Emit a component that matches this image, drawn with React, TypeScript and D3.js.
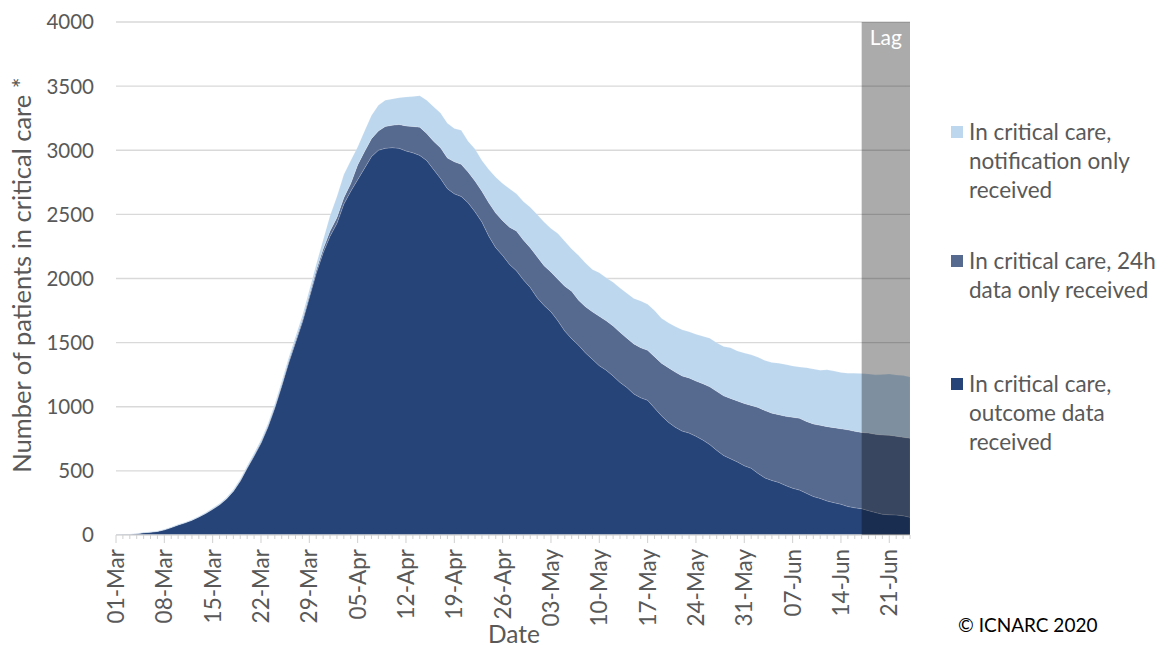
import React from "react";
import * as d3 from "d3";

// ---------- DATA ----------
const startDate = "2020-03-01";
const outcomeReceived = [
  3, 5, 6, 10, 18, 22, 28, 40, 58, 78,
  95, 115, 140, 168, 200, 235, 280, 340, 420, 520,
  615, 715, 840, 990, 1160, 1340, 1500, 1660, 1850, 2040,
  2200, 2330, 2430, 2580, 2680, 2770, 2860, 2950, 3000, 3015,
  3020, 3015, 2995, 2980, 2960, 2920, 2850, 2780, 2700, 2660,
  2640, 2590, 2520, 2440, 2330, 2240, 2180, 2110, 2060, 1990,
  1930, 1850, 1790, 1740, 1670, 1590, 1530, 1480, 1420, 1370,
  1320, 1285, 1240, 1190, 1150, 1100, 1070, 1050, 990, 930,
  880, 840, 810, 795, 770, 740, 705, 660, 620, 595,
  570, 540, 520, 480, 445, 425, 410, 385, 365, 350,
  325, 300, 285, 265, 252, 240, 222, 212, 205, 190,
  175, 162, 158, 156, 150, 138,
];
const dataOnly24h = [
  0, 0, 0, 0, 0, 0, 0, 0, 0, 0,
  0, 0, 1, 1, 2, 2, 3, 4, 5, 6,
  7, 8, 9, 10, 12, 14, 16, 18, 20, 24,
  30, 40, 45, 50, 60, 115, 130, 140, 150, 170,
  175, 185, 195, 205, 220, 210, 220, 240, 240, 250,
  250, 240, 240, 240, 260, 270, 270, 290, 310, 310,
  310, 320, 310, 310, 325, 350, 370, 350, 360, 370,
  385, 385, 390, 390, 385, 390, 390, 390, 400, 410,
  425, 430, 430, 430, 430, 440, 450, 460, 465, 470,
  475, 485, 490, 515, 525, 525, 528, 540, 553, 560,
  560, 566, 570, 580, 585, 588, 598, 596, 595, 605,
  610, 618, 620, 614, 612, 617,
];
const notificationOnly = [
  2, 2, 2, 2, 3, 3, 3, 4, 4, 5,
  5, 5, 6, 7, 8, 9, 9, 11, 12, 14,
  16, 18, 19, 22, 24, 26, 29, 34, 38, 46,
  70, 120, 165, 180, 180, 140, 160, 180, 200, 205,
  205, 210, 225, 235, 245, 260, 270, 270, 270, 260,
  265, 240, 250, 240, 260, 280, 290, 300, 290, 300,
  315, 330, 340, 340, 355, 350, 330, 350, 340, 330,
  340, 335, 340, 345, 350, 355, 365, 360, 360, 350,
  350, 355, 360, 360, 365, 370, 380, 380, 385, 395,
  390, 395, 395, 390, 390, 395, 402, 405, 400, 400,
  420, 429, 430, 443, 441, 440, 442, 454, 460, 461,
  465, 472, 477, 478, 482, 477,
];
const yTicks = [0, 500, 1000, 1500, 2000, 2500, 3000, 3500, 4000];
const lagStart = "2020-06-17";
const seriesKeys = ["outcome", "h24", "notif"];
const seriesColors = ["#264478", "#56698F", "#BDD7EE"];
const legendItems = [
  { key: "notif", lines: ["In critical care,", "notification only", "received"] },
  { key: "h24", lines: ["In critical care, 24h", "data only received"] },
  { key: "outcome", lines: ["In critical care,", "outcome data", "received"] },
];

const W = 1163;
const H = 648;
const FONT = "Lato, 'Open Sans', sans-serif";
const TXT = "#595959";

export default function App() {
  const start = new Date(startDate + "T00:00:00Z");
  const dates = outcomeReceived.map((_, i) => d3.utcDay.offset(start, i));
  const rows = dates.map((d, i) => ({
    date: d,
    outcome: outcomeReceived[i],
    h24: dataOnly24h[i],
    notif: notificationOnly[i],
  }));

  const left = 116, right = 910, top = 22, bottom = 535;
  const x = d3.scaleUtc().domain([dates[0], dates[dates.length - 1]]).range([left, right]);
  const y = d3.scaleLinear().domain([0, 4000]).range([bottom, top]);

  const stack = d3.stack<any>().keys(seriesKeys);
  const stacked = stack(rows);
  const area = d3
    .area<any>()
    .x((d) => x(d.data.date))
    .y0((d) => y(d[0]))
    .y1((d) => y(d[1]));

  const lagX = x(new Date(lagStart + "T00:00:00Z"));
  const weekTicks = dates.filter((_, i) => i % 7 === 0);
  const fmt = d3.utcFormat("%d-%b");
  const colorOf = (k: string) => seriesColors[seriesKeys.indexOf(k)];

  const legendTop = [140, 269, 392];

  return (
    <svg width={W} height={H} style={{ position: "absolute", left: 0, top: 0, background: "#fff" }} fontFamily={FONT}>
      {/* gridlines */}
      {yTicks.filter((t) => t > 0).map((t) => (
        <line key={t} x1={left} x2={right} y1={y(t)} y2={y(t)} stroke="#D9D9D9" strokeWidth={1.3} />
      ))}
      {/* areas */}
      {stacked.map((s, i) => (
        <path key={s.key} d={area(s) || ""} fill={seriesColors[i]} stroke="rgba(255,255,255,0.25)" strokeWidth={0.6} />
      ))}
      {/* axis line + ticks */}
      <line x1={left} x2={right} y1={bottom} y2={bottom} stroke="#D9D9D9" strokeWidth={1.3} />
      {dates.map((d, i) => (
        <line key={i} x1={x(d)} x2={x(d)} y1={bottom} y2={bottom + (i % 7 === 0 ? 8 : 4)} stroke="#D0D0D0" strokeWidth={1} />
      ))}
      {/* lag overlay */}
      <rect x={lagX} y={top} width={right - lagX} height={bottom - top} fill="#000" fillOpacity={0.33} />
      <text x={(lagX + right) / 2} y={45} fill="#fff" fontSize={21} textAnchor="middle">Lag</text>
      {/* y tick labels */}
      {yTicks.map((t) => (
        <text key={t} x={94} y={y(t)} dy="0.36em" fill={TXT} fontSize={20.5} textAnchor="end">{t}</text>
      ))}
      {/* x tick labels */}
      {weekTicks.map((d, i) => (
        <text key={i} transform={`translate(${x(d)},${bottom + 14}) rotate(-90)`} dy="0.36em" fill={TXT} fontSize={22.5} textAnchor="end">
          {fmt(d)}
        </text>
      ))}
      {/* axis titles */}
      <text transform={`translate(22,275) rotate(-90)`} dy="0.36em" fill={TXT} fontSize={25.5} textAnchor="middle">
        Number of patients in critical care *
      </text>
      <text x={514} y={643} fill={TXT} fontSize={24.5} textAnchor="middle">Date</text>
      {/* legend */}
      {legendItems.map((it, i) => (
        <g key={it.key}>
          <rect x={951} y={legendTop[i] - 14} width={12} height={12} fill={colorOf(it.key)} />
          {it.lines.map((ln, j) => (
            <text key={j} x={969} y={legendTop[i] + j * 29} fill={TXT} fontSize={22.5}>{ln}</text>
          ))}
        </g>
      ))}
      <text x={958} y={632} fill="#000" fontSize={19}>© ICNARC 2020</text>
    </svg>
  );
}
